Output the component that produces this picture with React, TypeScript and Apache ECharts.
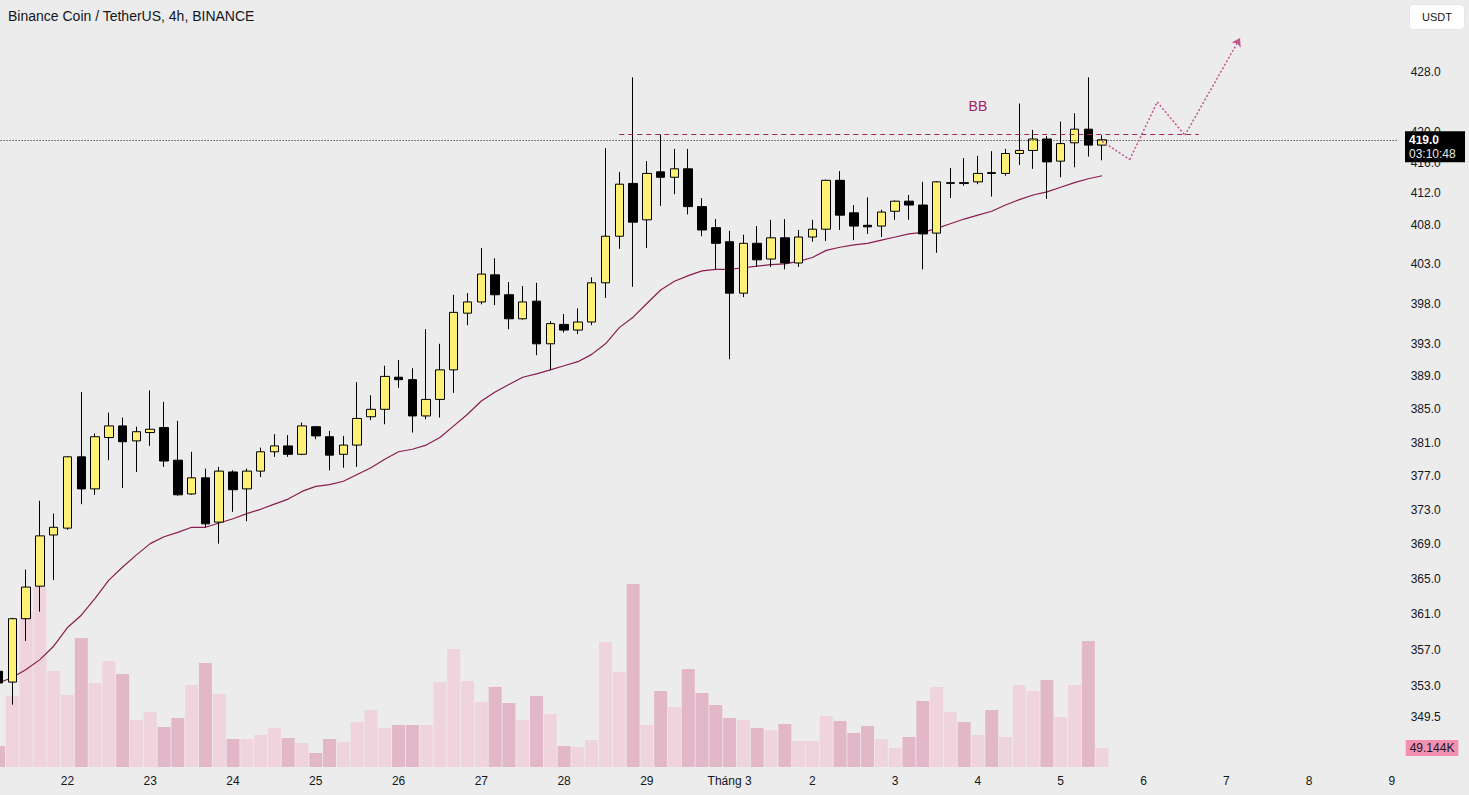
import React, { useEffect, useRef } from "react";
import * as echarts from "echarts";

// ---- time axis (4h slots) ----
const dayKeys = ["02-21", "02-22", "02-23", "02-24", "02-25", "02-26", "02-27", "02-28", "02-29", "03-01", "03-02", "03-03", "03-04", "03-05", "03-06", "03-07", "03-08", "03-09"];
const dayLabels = ["21", "22", "23", "24", "25", "26", "27", "28", "29", "Tháng 3", "2", "3", "4", "5", "6", "7", "8", "9"];
const hourKeys = ["00:00", "04:00", "08:00", "12:00", "16:00", "20:00"];

// ---- OHLC (BNB/USDT 4h) ----
const opens = [354.6, 353.4, 360.5, 364.2, 370.1, 370.9, 379.3, 375.5, 381.6, 383.0, 381.2, 382.2, 382.8, 378.9, 374.9, 376.8, 371.6, 377.5, 375.5, 377.6, 379.9, 380.6, 379.6, 382.9, 381.7, 379.6, 380.7, 384.1, 385.0, 388.9, 388.6, 384.2, 386.2, 389.8, 396.8, 398.2, 401.6, 399.1, 396.1, 398.3, 393.0, 395.4, 394.7, 395.7, 400.6, 406.5, 413.3, 408.6, 414.8, 414.1, 415.2, 410.3, 407.6, 405.8, 399.3, 405.6, 403.6, 406.3, 403.1, 406.4, 407.4, 413.7, 409.5, 407.9, 407.8, 409.7, 411.0, 410.5, 406.9, 413.3, 413.4, 413.5, 414.7, 414.6, 417.2, 417.6, 419.1, 416.2, 418.6, 420.4, 418.3];
const highs = [355.0, 360.6, 366.1, 374.1, 372.6, 379.4, 387.1, 382.1, 384.6, 384.0, 382.9, 387.3, 385.9, 383.6, 379.9, 377.9, 378.1, 377.7, 377.9, 380.4, 382.0, 381.9, 383.4, 383.0, 382.4, 381.8, 388.3, 386.7, 390.3, 391.0, 390.0, 394.8, 393.0, 399.1, 399.3, 405.0, 403.7, 400.7, 400.2, 400.6, 395.8, 396.7, 397.4, 401.3, 417.9, 414.8, 427.3, 416.2, 419.7, 417.8, 417.8, 411.4, 408.7, 407.2, 406.7, 407.8, 408.6, 408.7, 407.3, 408.6, 413.8, 414.9, 410.5, 411.5, 409.9, 411.1, 411.8, 413.5, 413.6, 415.3, 416.6, 416.9, 417.5, 417.8, 423.8, 420.3, 419.5, 421.4, 422.5, 427.3, 419.6];
const lows = [353.0, 350.9, 358.0, 361.3, 364.9, 370.7, 373.7, 374.8, 378.9, 375.6, 377.5, 380.6, 378.1, 374.7, 374.8, 371.0, 369.1, 372.8, 371.7, 376.9, 379.3, 379.3, 379.5, 381.4, 377.7, 378.0, 378.1, 383.7, 383.2, 387.6, 382.2, 383.8, 384.0, 387.0, 395.3, 397.9, 397.8, 394.8, 396.0, 391.6, 389.8, 394.4, 394.2, 395.3, 398.7, 404.9, 400.1, 405.0, 410.4, 411.9, 409.3, 406.5, 402.3, 391.1, 398.8, 402.6, 402.6, 402.3, 402.6, 405.8, 405.9, 407.3, 406.0, 406.8, 406.4, 408.6, 408.6, 402.3, 404.4, 411.4, 413.0, 413.2, 411.6, 414.3, 415.7, 415.2, 411.3, 414.1, 415.4, 416.8, 416.3];
const closes = [353.3, 360.5, 364.1, 370.0, 371.0, 379.3, 375.5, 381.7, 383.0, 381.1, 382.3, 382.6, 378.8, 374.8, 376.8, 371.4, 377.6, 375.4, 377.6, 379.9, 380.6, 379.6, 383.0, 381.8, 379.5, 380.7, 383.9, 385.0, 389.0, 388.6, 384.2, 386.2, 389.8, 396.9, 398.2, 401.7, 399.1, 396.1, 398.2, 393.0, 395.5, 394.7, 395.7, 400.6, 406.5, 413.2, 408.3, 414.6, 414.1, 415.2, 410.3, 407.3, 405.6, 399.3, 405.6, 403.5, 406.3, 403.1, 406.4, 407.4, 413.7, 409.2, 407.8, 407.7, 409.6, 411.0, 410.5, 406.8, 413.5, 413.4, 413.3, 414.6, 414.6, 417.2, 417.6, 419.1, 416.1, 418.5, 420.4, 418.3, 419.0];

// ---- volume (thousand BNB) ----
const volumesK = [54.3, 183.7, 398.4, 465.7, 248.4, 186.3, 333.7, 217.3, 274.2, 240.6, 121.6, 142.3, 103.5, 126.8, 212.1, 269.0, 188.9, 72.4, 72.4, 82.8, 100.9, 75.0, 62.1, 36.2, 72.4, 64.7, 116.4, 147.5, 100.9, 108.7, 108.7, 108.7, 219.9, 305.3, 222.5, 168.2, 207.0, 165.6, 121.6, 183.7, 137.1, 54.3, 51.7, 69.8, 323.4, 245.8, 473.4, 108.7, 196.6, 155.2, 253.5, 191.4, 160.4, 126.8, 121.6, 100.9, 95.7, 111.2, 67.3, 67.3, 131.9, 119.0, 88.0, 106.1, 72.4, 49.2, 77.6, 170.7, 207.0, 142.3, 116.4, 82.8, 147.5, 77.6, 212.1, 196.6, 225.1, 129.4, 212.1, 326.0, 49.144];

// ---- moving average ----
const maValues = [353.3, 353.9, 354.8, 355.9, 357.4, 359.5, 360.9, 362.8, 364.9, 366.4, 367.8, 369.1, 369.9, 370.4, 371.0, 371.0, 371.5, 372.0, 372.6, 373.1, 373.7, 374.3, 375.2, 375.8, 376.0, 376.4, 377.2, 378.0, 379.0, 379.9, 380.2, 380.7, 381.6, 383.0, 384.4, 386.0, 387.1, 388.0, 388.9, 389.3, 389.8, 390.3, 390.8, 391.7, 393.0, 395.0, 396.3, 398.0, 399.7, 400.8, 401.5, 402.1, 402.3, 402.3, 402.5, 402.7, 402.9, 403.0, 403.3, 403.8, 404.7, 405.1, 405.4, 405.6, 406.0, 406.4, 406.8, 407.0, 407.5, 408.1, 408.7, 409.2, 409.7, 410.5, 411.2, 411.8, 412.2, 412.8, 413.4, 413.9, 414.3];

// ---- price scale ticks ----
const priceTicks = [428, 420, 416, 412, 408, 403, 398, 393, 389, 385, 381, 377, 373, 369, 365, 361, 357, 353, 349.5];
const priceMin = 344.1;
const priceMax = 437.8;
const volumeMaxK = 1984;

// ---- annotations ----
const lastPrice = 419.0;
const countdown = "03:10:48";
const lastVolumeText = "49.144K";
const lastVolume = 49.144;
const resistanceLevel = 419.7;
const resistanceFromIdx = 45;
const resistanceToIdx = 87;
const projIdx = [80, 82, 84, 86, 90];
const projPrice = [418.8, 416.4, 424.0, 419.6, 432.6];
const bbIdx = 71;
const bbPrice = 423.5;
const bbText = "BB";
const titleText = "Binance Coin / TetherUS, 4h, BINANCE";
const currencyText = "USDT";

const FONT = '"Liberation Sans", Arial, sans-serif';
const TEXT = "#131722";
const UP = "#fff176";
const DOWN = "#000000";
const VOL_UP = "#efd4dd";
const VOL_DOWN = "#e2b7c7";
const MA_COLOR = "#8a1c50";

export default function App() {
  const ref = useRef<HTMLDivElement>(null);

  useEffect(() => {
    if (!ref.current) return;
    const chart = echarts.init(ref.current, undefined, { renderer: "svg" });

    const allSlots = dayKeys.flatMap((d) => hourKeys.map((h) => `${d} ${h}`));
    const categories = allSlots.slice(1, 103);
    const dayMap: Record<string, string> = {};
    dayKeys.forEach((d, i) => (dayMap[d] = dayLabels[i]));

    const candleData = opens.map((o, i) => [o, closes[i], lows[i], highs[i]]);
    const volData = volumesK.map((v, i) => ({
      value: v,
      itemStyle: { color: closes[i] >= opens[i] ? VOL_UP : VOL_DOWN },
    }));

    const step = 13.795;
    const gridLeft = -1.5 - step / 2;
    const gridRightEdge = gridLeft + categories.length * step;

    const projLines: any[] = [];
    for (let k = 0; k < projIdx.length - 1; k++) {
      const last = k === projIdx.length - 2;
      projLines.push([
        {
          coord: [categories[projIdx[k]], projPrice[k]],
          lineStyle: { color: "#c2578c", type: [2, 2], width: 1.5 },
          symbol: "none",
        },
        {
          coord: [categories[projIdx[k + 1]], projPrice[k + 1]],
          symbol: last ? "arrow" : "none",
          symbolSize: last ? 8 : 0,
        },
      ]);
    }

    const option: any = {
      animation: false,
      backgroundColor: "#ececec",
      textStyle: { fontFamily: FONT },
      grid: {
        left: gridLeft,
        right: 1469 - gridRightEdge,
        top: 0,
        bottom: 28,
        containLabel: false,
        outerBoundsMode: "none",
      },
      xAxis: {
        type: "category",
        data: categories,
        boundaryGap: true,
        axisLine: { show: false },
        axisTick: { show: false },
        splitLine: { show: false },
        axisLabel: {
          interval: (_i: number, v: string) => v.endsWith("00:00"),
          formatter: (v: string) => (v.endsWith("00:00") ? dayMap[v.slice(0, 5)] ?? "" : ""),
          color: TEXT,
          fontSize: 12,
          fontFamily: FONT,
          margin: 8,
          hideOverlap: false,
        },
      },
      yAxis: [
        {
          type: "log",
          logBase: 10,
          min: priceMin,
          max: priceMax,
          position: "right",
          axisLine: { show: false },
          axisTick: { show: false },
          splitLine: { show: false },
          axisLabel: {
            customValues: priceTicks,
            formatter: (v: number) => v.toFixed(1),
            color: TEXT,
            fontSize: 12,
            fontFamily: FONT,
            margin: 12,
          },
        },
        {
          type: "value",
          min: 0,
          max: volumeMaxK,
          show: false,
        },
      ],
      series: [
        {
          type: "bar",
          name: "Volume",
          xAxisIndex: 0,
          yAxisIndex: 1,
          data: volData,
          barCategoryGap: "6%",
          z: 1,
          markLine: {
            silent: true,
            symbol: "none",
            animation: false,
            lineStyle: { color: "rgba(0,0,0,0)", width: 0 },
            label: {
              show: true,
              position: "end",
              distance: 7,
              formatter: lastVolumeText,
              backgroundColor: "#f48fb1",
              color: TEXT,
              fontSize: 12,
              fontFamily: FONT,
              padding: [2, 4, 2, 4],
            },
            data: [{ yAxis: lastVolume }],
          },
        },
        {
          type: "line",
          name: "MA",
          data: maValues,
          symbol: "none",
          lineStyle: { color: MA_COLOR, width: 1.2 },
          z: 2,
        },
        {
          type: "candlestick",
          name: "BNBUSDT",
          data: candleData,
          barWidth: 9,
          z: 3,
          itemStyle: {
            color: UP,
            color0: DOWN,
            borderColor: "#000",
            borderColor0: "#000",
            borderWidth: 1,
          },
          markLine: {
            silent: true,
            symbol: "none",
            animation: false,
            label: { show: false },
            data: [
              { yAxis: lastPrice, lineStyle: { color: TEXT, type: [1, 2], width: 1 } },
              [
                {
                  coord: [categories[resistanceFromIdx], resistanceLevel],
                  lineStyle: { color: "#a3245f", type: [5, 4], width: 1 },
                },
                { coord: [categories[resistanceToIdx], resistanceLevel] },
              ],
              ...projLines,
            ],
          },
          markPoint: {
            silent: true,
            symbol: "circle",
            symbolSize: 1,
            itemStyle: { color: "rgba(0,0,0,0)" },
            label: {
              show: true,
              position: "inside",
              formatter: bbText,
              color: "#a3245f",
              fontSize: 14,
              fontFamily: FONT,
            },
            data: [{ coord: [categories[bbIdx], bbPrice] }],
          },
        },
      ],
    };

    chart.setOption(option);

    const yPx = chart.convertToPixel({ yAxisIndex: 0 }, lastPrice) as number;

    chart.setOption({
      graphic: {
        elements: [
          {
            type: "text",
            left: 8,
            top: 9,
            z: 100,
            style: { text: titleText, fill: TEXT, fontSize: 14, fontFamily: FONT },
          },
          {
            type: "group",
            left: 1409,
            top: 4,
            z: 100,
            children: [
              {
                type: "rect",
                shape: { x: 0, y: 0, width: 55, height: 25, r: 4 },
                style: { fill: "#ffffff", stroke: "#e6e6e6", lineWidth: 1 },
              },
              {
                type: "text",
                x: 27.5,
                y: 12.5,
                style: {
                  text: currencyText,
                  fill: TEXT,
                  fontSize: 11,
                  fontFamily: FONT,
                  align: "center",
                  verticalAlign: "middle",
                },
              },
            ],
          },
          {
            type: "group",
            left: 1405,
            top: yPx - 8.5,
            z: 100,
            children: [
              {
                type: "rect",
                shape: { x: 0, y: 0, width: 60, height: 31 },
                style: { fill: "#000000" },
              },
              {
                type: "text",
                x: 4,
                y: 8.5,
                style: {
                  text: lastPrice.toFixed(1),
                  fill: "#ffffff",
                  fontSize: 12,
                  fontWeight: "bold",
                  fontFamily: FONT,
                  verticalAlign: "middle",
                },
              },
              {
                type: "text",
                x: 4,
                y: 22.5,
                style: {
                  text: countdown,
                  fill: "#e8e8e8",
                  fontSize: 12,
                  fontFamily: FONT,
                  verticalAlign: "middle",
                },
              },
            ],
          },
        ],
      },
    });

    return () => chart.dispose();
  }, []);

  return (
    <div
      ref={ref}
      style={{ position: "fixed", left: 0, top: 0, width: 1469, height: 795, background: "#ececec" }}
    />
  );
}
